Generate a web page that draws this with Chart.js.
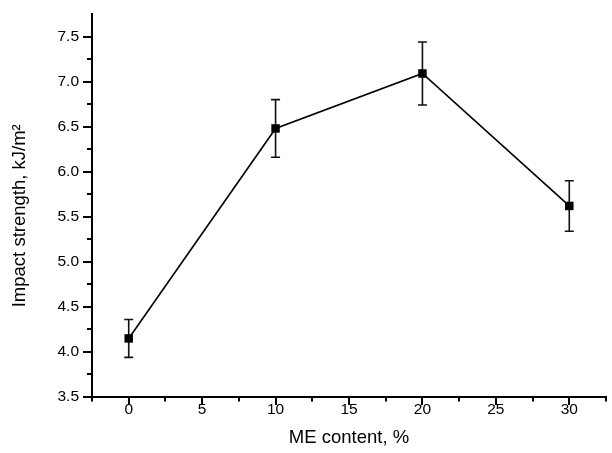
<!DOCTYPE html>
<html>
<head>
<meta charset="utf-8">
<script src="https://cdn.jsdelivr.net/npm/chart.js@4/dist/chart.umd.min.js"></script>
<style>
  html, body { margin: 0; padding: 0; background: #fff; }
  #wrap { width: 612px; height: 453px; }
</style>
</head>
<body>
<div id="wrap"><canvas id="chart"></canvas></div>
<script>
const meContent = [0, 10, 20, 30];
const impact = [4.15, 6.48, 7.09, 5.62];
const impactErr = [0.21, 0.32, 0.35, 0.28];

const xTicks = [0, 5, 10, 15, 20, 25, 30];
const xMinor = [-2.5, 2.5, 7.5, 12.5, 17.5, 22.5, 27.5, 32.5];
const yTicks = [3.5, 4.0, 4.5, 5.0, 5.5, 6.0, 6.5, 7.0, 7.5];
const yMinor = [3.75, 4.25, 4.75, 5.25, 5.75, 6.25, 6.75, 7.25];

Chart.defaults.font.family = "'Liberation Sans', Arial, sans-serif";
Chart.defaults.color = "#000";

// error bars, drawn under the markers
const errorBars = {
    id: "errorBars",
    beforeDatasetsDraw(chart) {
        const { ctx, scales: { x, y } } = chart;
        ctx.save();
        ctx.strokeStyle = "#111";
        ctx.lineWidth = 1.6;
        meContent.forEach((v, i) => {
            const px = x.getPixelForValue(v);
            const top = y.getPixelForValue(impact[i] + impactErr[i]);
            const bot = y.getPixelForValue(impact[i] - impactErr[i]);
            ctx.beginPath();
            ctx.moveTo(px, top);
            ctx.lineTo(px, bot);
            ctx.moveTo(px - 4.5, top);
            ctx.lineTo(px + 4.5, top);
            ctx.moveTo(px - 4.5, bot);
            ctx.lineTo(px + 4.5, bot);
            ctx.stroke();
        });
        ctx.restore();
    }
};

// outward major and minor tick marks
const tickMarks = {
    id: "tickMarks",
    afterDraw(chart) {
        const { ctx, scales: { x, y } } = chart;
        const left = x.left, bottom = y.bottom;
        ctx.save();
        ctx.strokeStyle = "#000";
        ctx.lineWidth = 2;
        ctx.beginPath();
        yTicks.forEach(v => {
            const py = Math.round(y.getPixelForValue(v));
            ctx.moveTo(left, py);
            ctx.lineTo(left - 9, py);
        });
        yMinor.forEach(v => {
            const py = Math.round(y.getPixelForValue(v));
            ctx.moveTo(left, py);
            ctx.lineTo(left - 5, py);
        });
        xTicks.forEach(v => {
            const px = Math.round(x.getPixelForValue(v));
            ctx.moveTo(px, bottom);
            ctx.lineTo(px, bottom + 8);
        });
        xMinor.forEach(v => {
            const px = Math.round(x.getPixelForValue(v));
            ctx.moveTo(px, bottom);
            ctx.lineTo(px, bottom + 4.5);
        });
        ctx.stroke();
        ctx.restore();
    }
};

new Chart(document.getElementById("chart"), {
    type: "line",
    data: {
        datasets: [
            {
                data: meContent.map((v, i) => ({ x: v, y: impact[i] })),
                borderColor: "#000",
                backgroundColor: "#000",
                borderWidth: 1.6,
                pointStyle: "rect",
                pointRadius: 6,
                pointBorderWidth: 0,
                tension: 0
            }
        ]
    },
    options: {
        responsive: true,
        maintainAspectRatio: false,
        animation: false,
        layout: { padding: { left: 0, right: 1, top: 14, bottom: 0 } },
        plugins: {
            legend: { display: false },
            tooltip: { enabled: false }
        },
        scales: {
            x: {
                type: "linear",
                min: -2.5,
                max: 32.5,
                afterBuildTicks: s => { s.ticks = xTicks.map(v => ({ value: v })); },
                afterFit: s => { s.height = 56; s.paddingLeft = 0; s.paddingRight = 0; },
                grid: { drawOnChartArea: false, drawTicks: false },
                border: { display: true, color: "#000", width: 2 },
                ticks: {
                    autoSkip: false,
                    maxRotation: 0,
                    padding: 3,
                    font: { size: 15.5 },
                    callback: v => String(v)
                },
                title: {
                    display: true,
                    text: "ME content, %",
                    font: { size: 18.5 },
                    padding: { top: 0, bottom: 3.5 }
                }
            },
            y: {
                type: "linear",
                min: 3.5,
                max: 7.75,
                afterBuildTicks: s => { s.ticks = yTicks.map(v => ({ value: v })); },
                afterFit: s => { s.width = 92; s.paddingTop = 0; s.paddingBottom = 0; },
                grid: { drawOnChartArea: false, drawTicks: false },
                border: { display: true, color: "#000", width: 2 },
                ticks: {
                    padding: 13,
                    font: { size: 15.5 },
                    callback: v => v.toFixed(1)
                },
                title: {
                    display: true,
                    text: "Impact strength, kJ/m²    ",
                    font: { size: 18.5 },
                    padding: { top: 8.5, bottom: 0 }
                }
            }
        }
    },
    plugins: [errorBars, tickMarks]
});
</script>
</body>
</html>
